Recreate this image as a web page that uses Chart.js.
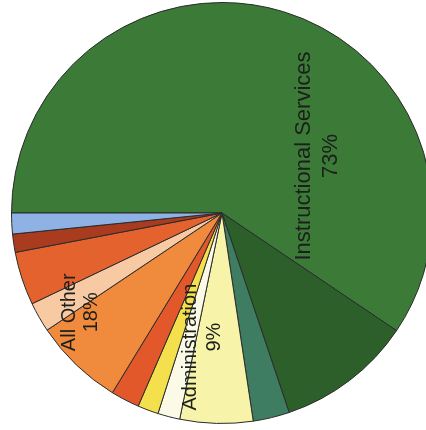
<!DOCTYPE html>
<html>
<head>
<meta charset="utf-8">
<script src="https://cdn.jsdelivr.net/npm/chart.js@4"></script>
<style>
  html, body { margin: 0; padding: 0; background: #fff; overflow: hidden; }
  #wrap { width: 426px; height: 430px; overflow: hidden; position: relative; }
  #pie { position: absolute; left: 0; top: 0; }
</style>
</head>
<body>
<div id="wrap"><canvas id="pie" width="444" height="430"></canvas></div>
<script>
// slices, clockwise from the left horizontal
const categories = [
  'Instructional Services A', 'Instructional Services B', 'Instructional Services C',
  'Administration A', 'Administration B', 'Administration C',
  'All Other A', 'All Other B', 'All Other C', 'All Other D', 'All Other E', 'All Other F'
];
const shares = [59.5, 10.4, 2.8, 5.6, 1.7, 1.6, 2.2, 6.9, 2.3, 4.1, 1.4, 1.6];
const colors = [
  '#3b7b37', '#2d5f2b', '#3e7d62',
  '#f7f3a8', '#fbfae6', '#f4e04c',
  '#e2582a', '#f08a3c', '#f8caa4', '#e4622e', '#a93b1e', '#8fb2e4'
];

// group labels drawn over the pie
const groupNames = ['Instructional Services', 'Administration', 'All Other'];
const groupShares = ['73%', '9%', '18%'];
// placement: angle (deg, clockwise from 3 o'clock), distance as fraction of radius,
// drop = how far each line slides down the page
const labelSpots = [
  { angle: -30.7, dist: 0.53, gap: 27, size: 22, drop: [0, 0] },
  { angle: 98.4, dist: 0.62, gap: 24, size: 20, drop: [5, -5] },
  { angle: 144.9, dist: 0.82, gap: 22, size: 20, drop: [0, 0] }
];

const groupLabels = {
  id: 'groupLabels',
  afterDatasetsDraw(chart) {
    const arc = chart.getDatasetMeta(0).data[0];
    const { x, y, outerRadius } = arc;
    const ctx = chart.ctx;
    labelSpots.forEach((s, i) => {
      const a = s.angle * Math.PI / 180;
      ctx.save();
      ctx.translate(x + Math.cos(a) * s.dist * outerRadius, y + Math.sin(a) * s.dist * outerRadius);
      ctx.rotate(-Math.PI / 2);
      ctx.font = s.size + 'px "Liberation Sans", Arial, sans-serif';
      ctx.fillStyle = '#1c1f1c';
      ctx.textAlign = 'center';
      ctx.textBaseline = 'middle';
      ctx.fillText(groupNames[i], -s.drop[0], -s.gap / 2);
      ctx.fillText(groupShares[i], -s.drop[1], s.gap / 2);
      ctx.restore();
    });
  }
};

new Chart(document.getElementById('pie'), {
  type: 'pie',
  data: {
    labels: categories,
    datasets: [{
      data: shares,
      backgroundColor: colors,
      borderColor: '#2b2b2b',
      borderWidth: 1
    }]
  },
  options: {
    responsive: false,
    animation: false,
    rotation: 270,
    layout: { padding: { top: 2, bottom: 6 } },
    plugins: { legend: { display: false }, tooltip: { enabled: false } }
  },
  plugins: [groupLabels]
});
</script>
</body>
</html>
